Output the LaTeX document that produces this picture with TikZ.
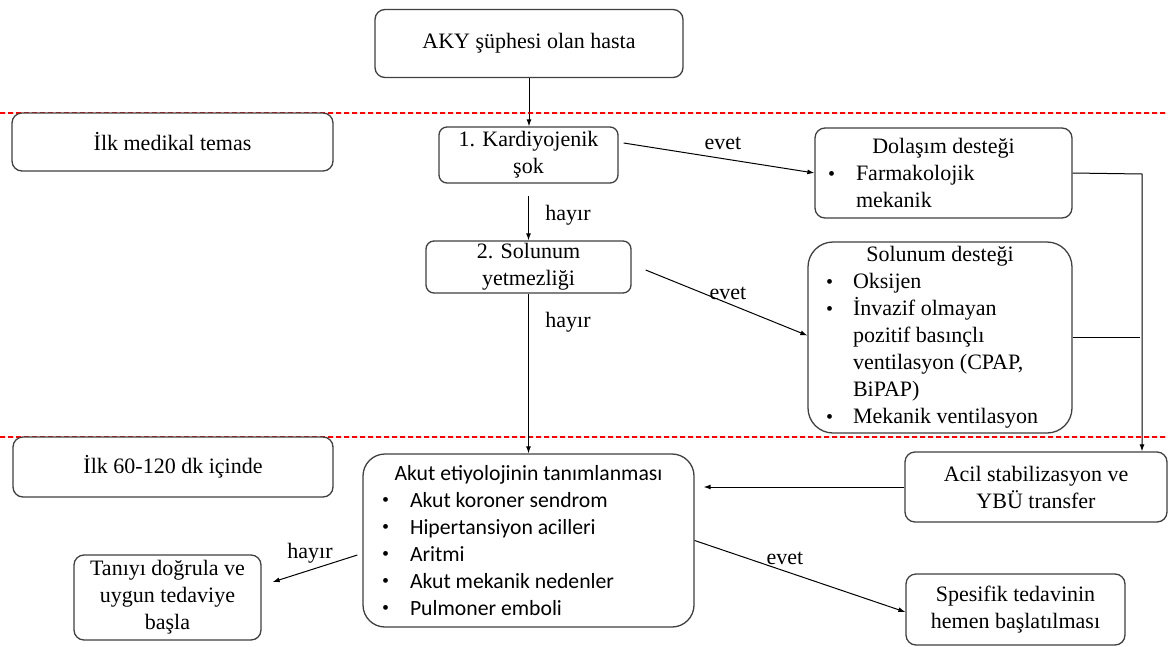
\documentclass[tikz,border=0pt]{standalone}
\usepackage{fontspec}
\setmainfont{Liberation Serif}
\newfontfamily\carlito{Carlito}
\usetikzlibrary{arrows.meta}

% type sizes: serif for most boxes, sans for the aetiology list
\newcommand\sersz{\fontsize{22pt}{27pt}\selectfont}
\newcommand\sanssz{\carlito\fontsize{21.7pt}{27pt}\selectfont}
% bullet set in a fixed-width slot: #1 slot width, #2 left offset
\newcommand\mkbul[2]{\makebox[#1][l]{\hspace*{#2}{\rmfamily\fontsize{20pt}{20pt}\selectfont\raisebox{0.5pt}{•}}}}

\tikzset{
  box/.style={draw=black!75, line width=1.3pt, rounded corners=10pt,
    fill=white, align=center, inner sep=0pt, font=\sersz},
  listbox/.style={box, align=flush left, inner xsep=10pt, inner ysep=0pt},
  arr/.style={draw=black, line width=1pt, -{Latex[length=7pt,width=5pt]}},
  conn/.style={draw=black, line width=1pt},
  phase/.style={draw=red, line width=1.2pt, dash pattern=on 5pt off 3pt},
  lbl/.style={font=\sersz, inner sep=1pt}
}

\begin{document}
\begin{tikzpicture}[x=1pt, y=-1pt]
\useasboundingbox (0,0) rectangle (1168,646);
\fill[white] (0,0) rectangle (1168,646);

% phase separators
\draw[phase] (0,113) -- (1168,113);
\draw[phase] (0,437) -- (1168,437);

% boxes
\node[box, minimum width=308pt, minimum height=68pt] (aky) at (529,43.5) {AKY şüphesi olan hasta};
\node[box, minimum width=321pt, minimum height=58pt] (ilk1) at (172.5,142) {İlk medikal temas};
\node[box, rounded corners=8pt, minimum width=179pt, minimum height=56pt] (kard) at (528.5,155) {1. Kardiyojenik\\şok};
\node[listbox, text width=237pt, minimum height=90pt] (dol) at (943.5,173)
  {\makebox[\linewidth]{Dolaşım desteği}\\
   \mkbul{31pt}{3pt}Farmakolojik\\
   \hspace*{31pt}mekanik};
\node[box, rounded corners=8pt, minimum width=205pt, minimum height=52pt] (sol2) at (528.5,267) {2. Solunum\\yetmezliği};
\node[listbox, rounded corners=25pt, text width=244pt, minimum height=191pt] (soldes) at (940,337.5)
  {\makebox[\linewidth]{Solunum desteği}\\
   \mkbul{35pt}{8pt}Oksijen\\
   \mkbul{35pt}{8pt}İnvazif olmayan\\
   \hspace*{35pt}pozitif basınçlı\\
   \hspace*{35pt}ventilasyon (CPAP,\\
   \hspace*{35pt}BiPAP)\\
   \mkbul{35pt}{8pt}Mekanik ventilasyon};
\node[box, minimum width=320pt, minimum height=60pt] (ilk2) at (173,467) {İlk 60-120 dk içinde};
\node[listbox, rounded corners=22pt, font=\sanssz, text width=311pt, minimum height=173pt] (akut) at (528.5,540.5)
  {\makebox[\linewidth]{Akut etiyolojinin tanımlanması}\\
   \mkbul{37pt}{9pt}Akut koroner sendrom\\
   \mkbul{37pt}{9pt}Hipertansiyon acilleri\\
   \mkbul{37pt}{9pt}Aritmi\\
   \mkbul{37pt}{9pt}Akut mekanik nedenler\\
   \mkbul{37pt}{9pt}Pulmoner emboli};
\node[box, minimum width=187pt, minimum height=85pt] (tani) at (167.5,597.5) {Tanıyı doğrula ve\\uygun tedaviye\\başla};
\node[box, minimum width=262pt, minimum height=70pt] (acil) at (1036,487) {Acil stabilizasyon ve\\YBÜ transfer};
\node[box, minimum width=219pt, minimum height=71pt] (spes) at (1015.5,609.5) {Spesifik tedavinin\\hemen başlatılması};

% connectors
\draw[arr] (aky.south) -- (aky.south |- kard.north);
\draw[arr] ([xshift=5pt,yshift=12pt]kard.east) -- (dol.west);
\node[lbl] (e1) at (723,143) {evet};
\draw[arr] ([yshift=-12pt]kard.south) -- (sol2.north);
\node[lbl] (h1) at (568,215) {hayır};
\draw[arr] ([xshift=14pt,yshift=-3pt]sol2.east) -- ([yshift=2pt]soldes.west);
\node[lbl] (e2) at (728,293) {evet};
\draw[arr] (sol2.south) -- (sol2.south |- akut.north);
\node[lbl] (h2) at (568,322) {hayır};

\coordinate (c1) at (1142,174);
\draw[arr] (dol.east) -- (c1) -- (c1 |- acil.north);
\coordinate (c2) at (1140,337.5);
\draw[conn] (soldes.east) -- (c2);

\coordinate (akE) at ([xshift=9pt]akut.east);
\draw[arr] (acil.west) -- (akE |- acil.west);
\draw[arr] ([xshift=-5pt,yshift=-14.5pt]akut.west) -- ([xshift=11pt,yshift=15.5pt]tani.east);
\node[lbl] (h3) at (310,553) {hayır};
\draw[arr] (akut.east) -- ([yshift=-2.5pt]spes.west);
\node[lbl] (e3) at (785,558) {evet};
\end{tikzpicture}
\end{document}
